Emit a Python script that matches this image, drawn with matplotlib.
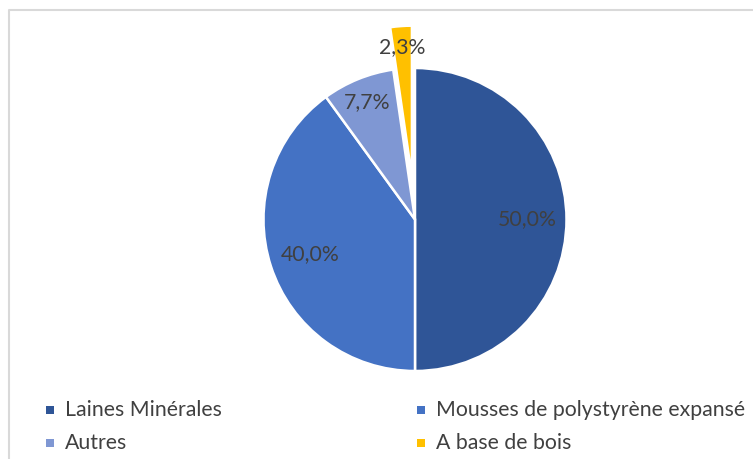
import matplotlib
matplotlib.use("Agg")
import matplotlib.pyplot as plt
from matplotlib.patches import Rectangle
from matplotlib.lines import Line2D
import numpy as np

categories = ["Laines Minérales", "Mousses de polystyrène expansé", "Autres", "A base de bois"]
values = [50.0, 40.0, 7.7, 2.3]
colors = ["#2F5597", "#4472C4", "#7F97D3", "#FFC000"]
explode_frac = [0, 0, 0, 0.28]
label_dist = [0.74, 0.73, 0.84, 0.86]

W, H = 753, 459
fig = plt.figure(figsize=(W / 100, H / 100), dpi=100)
ax = fig.add_axes([0, 0, 1, 1])

cx, cy, R = 415, H - 219.5, 151.5
wedges, _ = ax.pie(values, colors=colors, startangle=90, counterclock=False,
                   explode=[e * R for e in explode_frac], radius=R, center=(cx, cy),
                   wedgeprops=dict(edgecolor="white", linewidth=1.8))
ax.set_xlim(0, W)
ax.set_ylim(0, H)
ax.set_aspect("auto")
ax.axis("off")

font = "Lato"
for w, v, d in zip(wedges, values, label_dist):
    ang = np.deg2rad((w.theta1 + w.theta2) / 2)
    wx, wy = w.center
    ax.text(wx + d * w.r * np.cos(ang), wy + d * w.r * np.sin(ang),
            f"{v:.1f}".replace(".", ",") + "%", ha="center", va="center",
            fontsize=15.3, color="#404040", family=font)

# legend
legend_pos = [(50, 410), (421, 410), (50, 443), (421, 443)]
for (lx, ly), cat, col in zip(legend_pos, categories, colors):
    ax.add_patch(Rectangle((lx - 4, H - ly - 4), 8, 8, facecolor=col, edgecolor="none"))
    ax.text(lx + 15, H - ly, cat, ha="left", va="center", fontsize=15.3,
            color="#404040", family=font)

# chart border
ax.add_line(Line2D([9, 9, W], [0, H - 9.5, H - 9.5], color="#D9D9D9", linewidth=1.5))

fig.savefig("out.png", dpi=100)
